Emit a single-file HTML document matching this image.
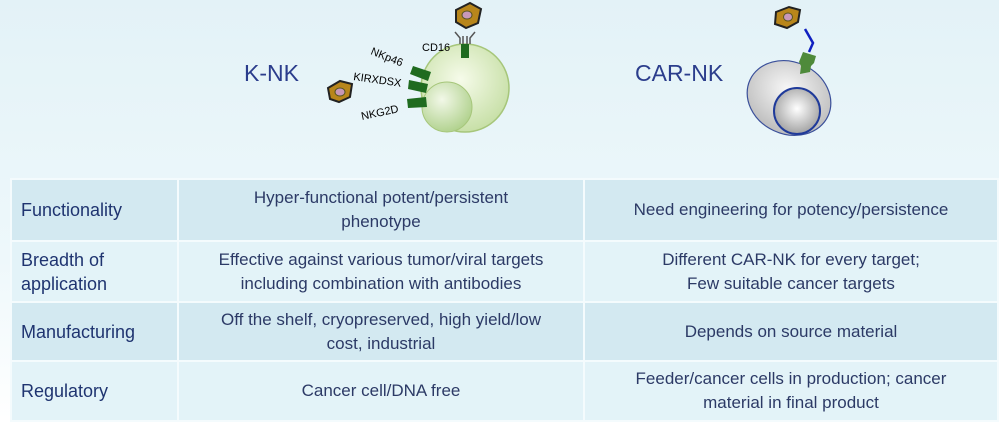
<!DOCTYPE html>
<html><head><meta charset="utf-8"><style>
body{margin:0;width:999px;height:432px;overflow:hidden;background:linear-gradient(#e3f2f7,#eef8fb 60%,#ffffff 97%);font-family:"Liberation Sans",sans-serif;position:relative}
.t{position:absolute;color:#2b3d8c;font-size:23px}
table{position:absolute;left:10px;top:178px;width:989px;border-collapse:collapse;table-layout:fixed}
td{border:2px solid #f4fbfd;color:#2c3a66;font-size:17px;text-align:center;line-height:24px;padding:0 6px}
td:first-child{text-align:left;color:#1f3470;font-size:18px;padding-left:9px}
tr.d td{background:#d3e9f1}
tr.l td{background:#e3f3f8}
</style></head><body>
<div class="t" style="left:244px;top:60px">K-NK</div>
<div class="t" style="left:635px;top:60px">CAR-NK</div>
<svg width="999" height="175" style="position:absolute;left:0;top:0">
<defs>
<radialGradient id="g1" cx="0.45" cy="0.4" r="0.6"><stop offset="0" stop-color="#f6fbea"/><stop offset="1" stop-color="#c8e0a8"/></radialGradient>
<radialGradient id="g2" cx="0.4" cy="0.35" r="0.7"><stop offset="0" stop-color="#f2f8e8"/><stop offset="1" stop-color="#aed08a"/></radialGradient>
<radialGradient id="g3" cx="0.45" cy="0.4" r="0.6"><stop offset="0" stop-color="#f8f8f8"/><stop offset="1" stop-color="#bdbdbd"/></radialGradient>
<radialGradient id="g4" cx="0.5" cy="0.45" r="0.6"><stop offset="0" stop-color="#ffffff"/><stop offset="1" stop-color="#9a9a9a"/></radialGradient>
</defs>
<circle cx="465" cy="88" r="44" fill="url(#g1)" stroke="#a6c67a" stroke-width="1.5"/>
<circle cx="447" cy="107" r="25" fill="url(#g2)" stroke="#a6c67a"/>
<g fill="#1f6b1f">
<polygon points="413,66 431,72 428,81 410,74"/>
<polygon points="409,80 428,84 426,93 408,89"/>
<polygon points="407,99 426,97 427,107 408,108"/>
<rect x="461" y="44" width="8" height="14"/>
</g>
<path d="M460 44 V38 L455 32 M470 44 V38 L475 32 M463 44 V36 M467 44 V36" stroke="#555" fill="none" stroke-width="1.5"/>
<polygon points="456,10 470,3 481,9 478,23 466,28 456,22" fill="#b8861b" stroke="#222" stroke-width="2"/>
<ellipse cx="467" cy="15" rx="5" ry="4" fill="#c898b8" stroke="#552"/>
<polygon points="328,88 340,81 352,84 350,97 339,102 330,99" fill="#b8861b" stroke="#222" stroke-width="2"/>
<ellipse cx="340" cy="92" rx="5" ry="4" fill="#c898b8" stroke="#552"/>
<text x="422" y="51" font-size="11" font-family="Liberation Sans">CD16</text>
<text x="370" y="54" font-size="11" font-family="Liberation Sans" transform="rotate(22 370 54)">NKp46</text>
<text x="353" y="80" font-size="11" font-family="Liberation Sans" transform="rotate(8 353 80)">KIRXDSX</text>
<text x="362" y="120" font-size="11" font-family="Liberation Sans" transform="rotate(-12 362 120)">NKG2D</text>
<ellipse cx="789" cy="98" rx="43" ry="36" transform="rotate(25 789 98)" fill="url(#g3)" stroke="#3a4f9a" stroke-width="1.2"/>
<circle cx="797" cy="111" r="23" fill="url(#g4)" stroke="#1f3a9a" stroke-width="2"/>
<path d="M805 29 L813 43 L809 52" stroke="#1020c0" stroke-width="2.5" fill="none"/>
<path d="M803 52 L816 56 L814 63 L811 66 L810 72 L800 74 L801 66 L799 62 Z" fill="#4e8a3a"/>
<polygon points="776,12 789,7 800,10 798,22 787,28 775,24" fill="#b8861b" stroke="#222" stroke-width="2"/>
<ellipse cx="788" cy="17" rx="4.5" ry="4" fill="#c898b8" stroke="#552"/>
</svg>
<table>
<colgroup><col style="width:167px"><col style="width:406px"><col></colgroup>
<tr class="d" style="height:62px"><td>Functionality</td><td>Hyper-functional potent/persistent<br>phenotype</td><td>Need engineering for potency/persistence</td></tr>
<tr class="l" style="height:61px"><td>Breadth of<br>application</td><td>Effective against various tumor/viral targets<br>including combination with antibodies</td><td>Different CAR-NK for every target;<br>Few suitable cancer targets</td></tr>
<tr class="d" style="height:59px"><td>Manufacturing</td><td>Off the shelf, cryopreserved, high yield/low<br>cost, industrial</td><td>Depends on source material</td></tr>
<tr class="l" style="height:60px"><td>Regulatory</td><td>Cancer cell/DNA free</td><td>Feeder/cancer cells in production; cancer<br>material in final product</td></tr>
</table>
</body></html>
